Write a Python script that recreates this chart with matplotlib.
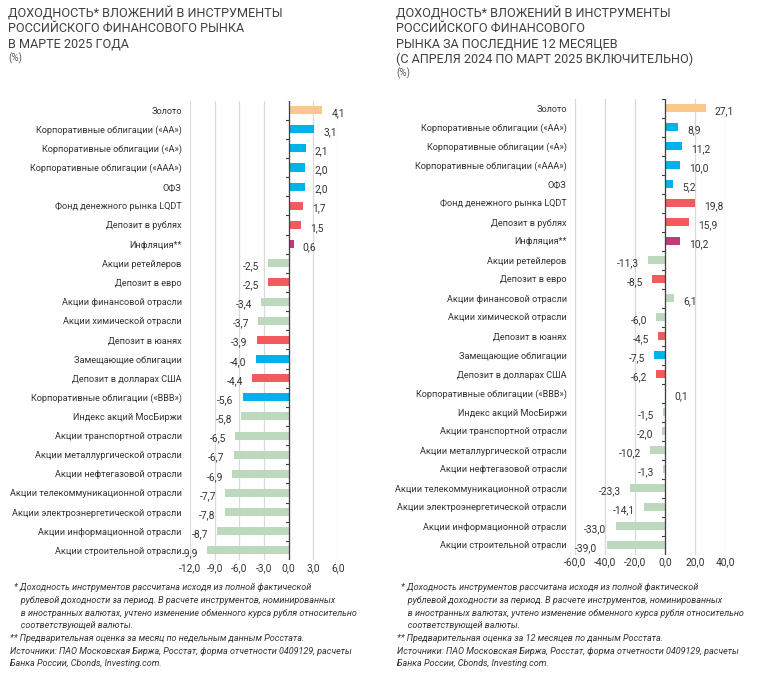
import matplotlib
matplotlib.use('Agg')
import matplotlib.pyplot as plt

plt.rcParams['font.family'] = ['Roboto', 'DejaVu Sans']

categories = [
    'Золото',
    'Корпоративные облигации («АА»)',
    'Корпоративные облигации («А»)',
    'Корпоративные облигации («ААА»)',
    'ОФЗ',
    'Фонд денежного рынка LQDT',
    'Депозит в рублях',
    'Инфляция**',
    'Акции ретейлеров',
    'Депозит в евро',
    'Акции финансовой отрасли',
    'Акции химической отрасли',
    'Депозит в юанях',
    'Замещающие облигации',
    'Депозит в долларах США',
    'Корпоративные облигации («BBB»)',
    'Индекс акций МосБиржи',
    'Акции транспортной отрасли',
    'Акции металлургической отрасли',
    'Акции нефтегазовой отрасли',
    'Акции телекоммуникационной отрасли',
    'Акции электроэнергетической отрасли',
    'Акции информационной отрасли',
    'Акции строительной отрасли',
]
groups = ['gold', 'bond', 'bond', 'bond', 'bond', 'dep', 'dep', 'infl',
          'eq', 'dep', 'eq', 'eq', 'dep', 'bond', 'dep', 'bond',
          'eq', 'eq', 'eq', 'eq', 'eq', 'eq', 'eq', 'eq']

march_2025 = [4.1, 3.1, 2.1, 2.0, 2.0, 1.7, 1.5, 0.6, -2.5, -2.5, -3.4, -3.7,
              -3.9, -4.0, -4.4, -5.6, -5.8, -6.5, -6.7, -6.9, -7.7, -7.8, -8.7, -9.9]
last_12m = [27.1, 8.9, 11.2, 10.0, 5.2, 19.8, 15.9, 10.2, -11.3, -8.5, 6.1, -6.0,
            -4.5, -7.5, -6.2, 0.1, -1.5, -2.0, -10.2, -1.3, -23.3, -14.1, -33.0, -39.0]

ticks_left = [-12, -9, -6, -3, 0, 3, 6]
ticks_right = [-60, -40, -20, 0, 20, 40]

group_colors = {'gold': '#f9c88a', 'bond': '#00b2ec', 'dep': '#f25a5e',
                'infl': '#c2397e', 'eq': '#bcd8bd'}

title_left = ['ДОХОДНОСТЬ* ВЛОЖЕНИЙ В ИНСТРУМЕНТЫ', 'РОССИЙСКОГО ФИНАНСОВОГО РЫНКА',
              'В МАРТЕ 2025 ГОДА']
title_right = ['ДОХОДНОСТЬ* ВЛОЖЕНИЙ В ИНСТРУМЕНТЫ', 'РОССИЙСКОГО ФИНАНСОВОГО',
               'РЫНКА ЗА ПОСЛЕДНИЕ 12 МЕСЯЦЕВ', '(С АПРЕЛЯ 2024 ПО МАРТ 2025 ВКЛЮЧИТЕЛЬНО)']

note_star = ['* Доходность инструментов рассчитана исходя из полной фактической',
             '   рублевой доходности за период. В расчете инструментов, номинированных',
             '   в иностранных валютах, учтено изменение обменного курса рубля относительно',
             '   соответствующей валюты.']
note_left = '** Предварительная оценка за месяц по недельным данным Росстата.'
note_right = '** Предварительная оценка за 12 месяцев по данным Росстата.'
note_src = ['Источники: ПАО Московская Биржа, Росстат, форма отчетности 0409129, расчеты',
            'Банка России, Cbonds, Investing.com.']

txt = '#333333'
fig = plt.figure(figsize=(7.58, 6.8), dpi=100)


def fmt(v):
    return ('%.1f' % v).replace('.', ',')


def draw(ax, values, ticks, gap_px):
    y = list(range(len(categories)))
    cols = [group_colors[g] for g in groups]
    ax.set_xlim(ticks[0], ticks[-1])
    ax.set_ylim(len(categories) - 0.5, -0.5)
    for t in ticks:
        ax.axvline(t, color='#d9d9d9', lw=0.9, zorder=0)
    ax.barh(y, values, height=0.42, color=cols, zorder=2)
    ax.axvline(0, color='#404040', lw=0.9, zorder=3)
    span = ticks[-1] - ticks[0]
    tick_len = span * 3.0 / (ax.get_position().width * 758)
    for k in range(len(categories) + 1):
        ax.plot([-tick_len, 0], [k - 0.5, k - 0.5], color='#404040', lw=0.8, zorder=3)
    gap = span * gap_px / (ax.get_position().width * 758)
    for yi, v in zip(y, values):
        if v >= 0:
            ax.text(v + gap, yi + 0.15, fmt(v), ha='left', va='center', fontsize=7.4, color=txt)
        else:
            ax.text(v - gap, yi + 0.15, fmt(v), ha='right', va='center', fontsize=7.4, color=txt)
    ax.set_xticks(ticks)
    ax.set_xticklabels([fmt(t) for t in ticks], fontsize=7.4, color=txt)
    ax.set_yticks(y)
    ax.set_yticklabels(categories, fontsize=6.6, color=txt)
    ax.tick_params(axis='both', length=0, pad=2)
    ax.tick_params(axis='y', pad=6)
    for s in ax.spines.values():
        s.set_visible(False)


ax1 = fig.add_axes([190 / 758, 1 - 560 / 680, 148 / 758, 459.5 / 680])
draw(ax1, march_2025, ticks_left, 9)
ax2 = fig.add_axes([575 / 758, 1 - 554.5 / 680, 150 / 758, 456 / 680])
draw(ax2, last_12m, ticks_right, 9)

# titles, one line every 15 px
for x0, lines in [(8, title_left), (396, title_right)]:
    for i, line in enumerate(lines):
        fig.text(x0 / 758, 1 - (14 + 15 * i) / 680, line, ha='left', va='center',
                 fontsize=9.1, color='#404040')
    fig.text(x0 / 758, 1 - (14 + 15 * len(lines) - 1) / 680, '(%)', ha='left', va='center',
             fontsize=7, color='#555555')

for x0, note2 in [(10, note_left), (397, note_right)]:
    lines = note_star + [note2] + note_src
    for i, line in enumerate(lines):
        xx = x0 + 4 if i < 4 else x0
        fig.text(xx / 758, 1 - (588 + i * 12.6) / 680, line, ha='left', va='center',
                 fontsize=6.5, style='italic', color=txt)

fig.savefig('out.png', dpi=100)
